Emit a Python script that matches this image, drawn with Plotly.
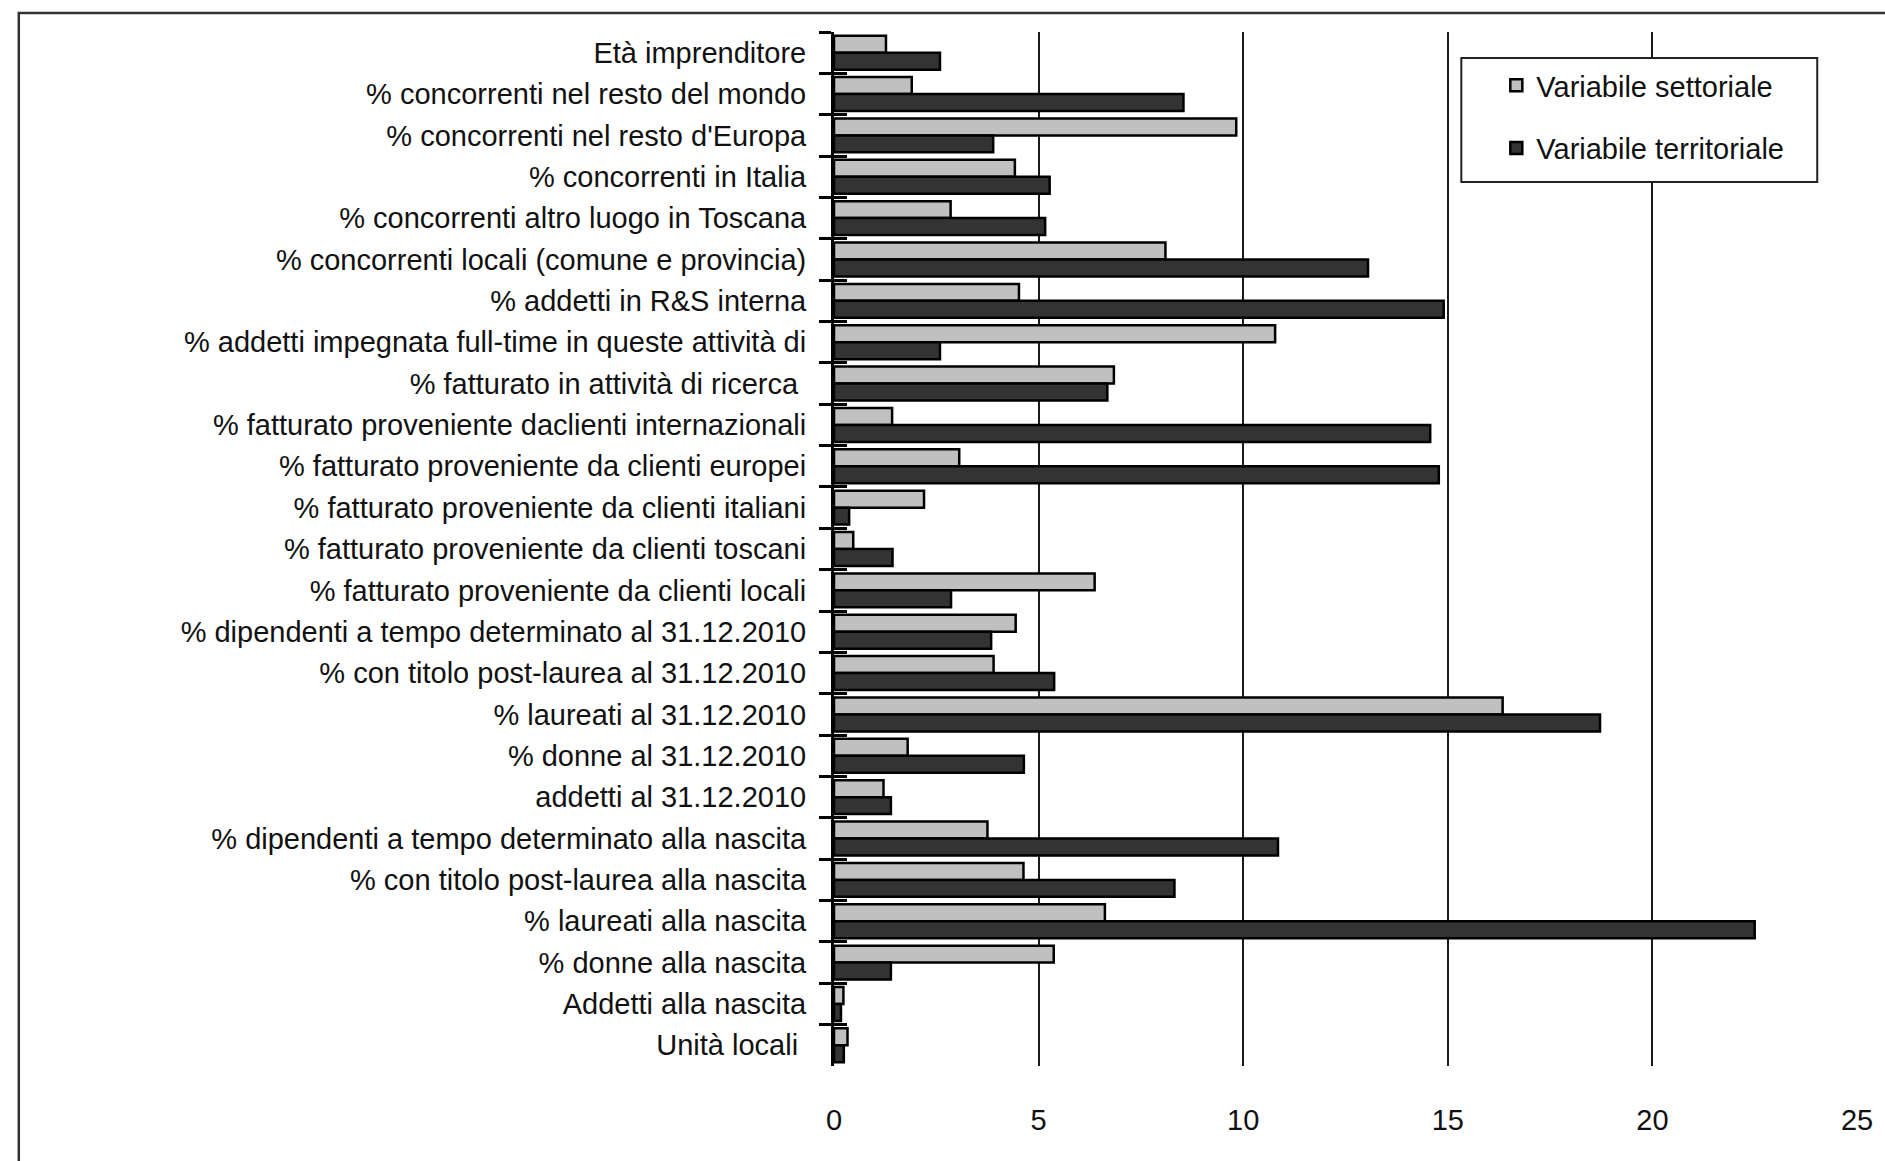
import plotly.graph_objects as go

categories = [
    "Età imprenditore",
    "% concorrenti nel resto del mondo",
    "% concorrenti nel resto d'Europa",
    "% concorrenti in Italia",
    "% concorrenti altro luogo in Toscana",
    "% concorrenti locali (comune e provincia)",
    "% addetti in R&S interna",
    "% addetti impegnata full-time in queste attività di",
    "% fatturato in attività di ricerca\u00a0",
    "% fatturato proveniente daclienti internazionali",
    "% fatturato proveniente da clienti europei",
    "% fatturato proveniente da clienti italiani",
    "% fatturato proveniente da clienti toscani",
    "% fatturato proveniente da clienti locali",
    "% dipendenti a tempo determinato al 31.12.2010",
    "% con titolo post-laurea al 31.12.2010",
    "% laureati al 31.12.2010",
    "% donne al 31.12.2010",
    "addetti al 31.12.2010",
    "% dipendenti a tempo determinato alla nascita",
    "% con titolo post-laurea alla nascita",
    "% laureati alla nascita",
    "% donne alla nascita",
    "Addetti alla nascita",
    "Unità locali\u00a0",
]

settoriale = [1.27, 1.90, 9.83, 4.42, 2.85, 8.10, 4.52, 10.78, 6.84, 1.42, 3.06, 2.20, 0.47,
              6.37, 4.44, 3.90, 16.34, 1.80, 1.21, 3.75, 4.63, 6.62, 5.37, 0.23, 0.33]
territoriale = [2.59, 8.54, 3.89, 5.27, 5.16, 13.05, 14.90, 2.59, 6.68, 14.57, 14.78, 0.37, 1.43,
                2.86, 3.84, 5.38, 18.72, 4.64, 1.39, 10.85, 8.32, 22.50, 1.39, 0.17, 0.24]

series_names = ["Variabile settoriale", "Variabile territoriale"]
x_ticks = [0, 5, 10, 15, 20, 25]

FONT = "Liberation Sans, Arial, sans-serif"

W, H = 1885, 1161
ML, MR, MT, MB = 834, 22, 32, 95
PW, PH = W - ML - MR, H - MT - MB


def px_x(p):
    return (p - ML) / PW


def px_y(p):
    return (H - MB - p) / PH


fig = go.Figure()
fig.add_trace(go.Bar(
    y=categories, x=settoriale, orientation="h", name=series_names[0],
    legendgroup="a",
    marker=dict(color="#C0C0C0", line=dict(color="#000000", width=2.5)),
))
fig.add_trace(go.Bar(
    y=categories, x=territoriale, orientation="h", name=series_names[1],
    legendgroup="b",
    marker=dict(color="#333333", line=dict(color="#000000", width=2.5)),
))
# helper trace for the inner half of the crossing category ticks
n = len(categories)
fig.add_trace(go.Scatter(
    x=[0], y=[0], yaxis="y2", mode="markers", opacity=0,
    showlegend=False, hoverinfo="skip",
))

fig.update_layout(
    width=W, height=H,
    margin=dict(l=ML, r=MR, t=MT, b=MB),
    paper_bgcolor="white", plot_bgcolor="white",
    font=dict(family=FONT, size=29, color="#111111"),
    barmode="group", bargap=0.18, bargroupgap=0.0,
    xaxis=dict(
        range=[0, 25], tickvals=x_ticks, showgrid=True, gridcolor="#1a1a1a", gridwidth=1.5,
        zeroline=False, showline=False, ticks="", ticklabelstandoff=34,
        tickfont=dict(size=29, family=FONT),
    ),
    yaxis=dict(
        type="category", categoryorder="array", categoryarray=categories,
        range=[n - 0.5, -0.5], showline=True, linecolor="#000000", linewidth=3,
        ticks="outside", ticklen=12, tickwidth=3, tickcolor="#000000",
        tickson="boundaries", showgrid=False, ticklabelstandoff=19,
        tickfont=dict(size=29, family=FONT),
    ),
    yaxis2=dict(
        overlaying="y", anchor="x", side="left", range=[n - 0.5, -0.5],
        tickvals=[i - 0.5 for i in range(n + 1)], ticks="inside", ticklen=13,
        tickwidth=3, tickcolor="#000000", showticklabels=False, showgrid=False,
        zeroline=False, showline=False,
    ),
    legend=dict(
        x=px_x(1467), y=px_y(60), xanchor="left", yanchor="top",
        borderwidth=0, bgcolor="rgba(0,0,0,0)",
        font=dict(size=29, family=FONT, color="#111111"),
        traceorder="grouped", tracegroupgap=22, indentation=33,
    ),
    shapes=[
        dict(
            type="rect", xref="paper", yref="paper",
            x0=px_x(14), x1=1.2, y0=-0.3, y1=px_y(13),
            line=dict(color="#333333", width=2.5), fillcolor="rgba(0,0,0,0)", layer="below",
        ),
        dict(
            type="rect", xref="paper", yref="paper",
            x0=px_x(1465), x1=px_x(1823), y0=px_y(182), y1=px_y(58),
            line=dict(color="#222222", width=2), fillcolor="white", layer="above",
        ),
    ],
)

fig.write_html("out.html")
